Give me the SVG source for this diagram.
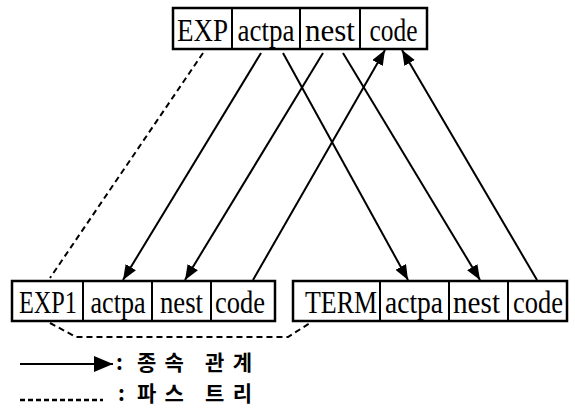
<svg xmlns="http://www.w3.org/2000/svg" width="575" height="419" viewBox="0 0 575 419">
<style>
.box{fill:#fff;stroke:#000;stroke-width:2.5}
.div{stroke:#000;stroke-width:2}
.t{font-family:"Liberation Serif","Times New Roman",serif;font-size:31px;fill:#000;text-anchor:middle}
.dep{fill:none;stroke:#000;stroke-width:2}
.tree{fill:none;stroke:#000;stroke-width:2;stroke-dasharray:6,4}
.k{font-family:"Noto Sans CJK KR","Noto Sans",sans-serif;font-size:21px;font-weight:700;fill:#000}
</style>
<defs>
<marker id="ah" markerUnits="userSpaceOnUse" markerWidth="16" markerHeight="12" refX="15" refY="6" orient="auto">
<path d="M0,0 L15,6 L0,12 z" fill="#000"/>
</marker>
<marker id="ahL" markerUnits="userSpaceOnUse" markerWidth="20" markerHeight="16" refX="19" refY="8" orient="auto">
<path d="M0,0 L19,8 L0,16 z" fill="#000"/>
</marker>
</defs>

<g id="EXP">
<rect class="box" x="173" y="8" width="254" height="41"/>
<line class="div" x1="232" y1="8" x2="232" y2="49"/>
<line class="div" x1="300" y1="8" x2="300" y2="49"/>
<line class="div" x1="360" y1="8" x2="360" y2="49"/>
<text class="t" x="202.5" y="41" textLength="51" lengthAdjust="spacingAndGlyphs">EXP</text>
<text class="t" x="266" y="41" textLength="57" lengthAdjust="spacingAndGlyphs">actpa</text>
<text class="t" x="330" y="41" textLength="50" lengthAdjust="spacingAndGlyphs">nest</text>
<text class="t" x="393.5" y="41" textLength="48" lengthAdjust="spacingAndGlyphs">code</text>
</g>

<g id="EXP1">
<rect class="box" x="12" y="281" width="263" height="40"/>
<line class="div" x1="83" y1="281" x2="83" y2="321"/>
<line class="div" x1="152" y1="281" x2="152" y2="321"/>
<line class="div" x1="211" y1="281" x2="211" y2="321"/>
<text class="t" x="48" y="313" textLength="58" lengthAdjust="spacingAndGlyphs">EXP1</text>
<text class="t" x="118" y="313" textLength="55" lengthAdjust="spacingAndGlyphs">actpa</text>
<text class="t" x="181.5" y="313" textLength="43" lengthAdjust="spacingAndGlyphs">nest</text>
<text class="t" x="240" y="313" textLength="50" lengthAdjust="spacingAndGlyphs">code</text>
</g>

<g id="TERM">
<rect class="box" x="293" y="281" width="274" height="40"/>
<line class="div" x1="380" y1="281" x2="380" y2="321"/>
<line class="div" x1="449" y1="281" x2="449" y2="321"/>
<line class="div" x1="508" y1="281" x2="508" y2="321"/>
<text class="t" x="341" y="313" textLength="72" lengthAdjust="spacingAndGlyphs">TERM</text>
<text class="t" x="414" y="313" textLength="58" lengthAdjust="spacingAndGlyphs">actpa</text>
<text class="t" x="476.5" y="313" textLength="47" lengthAdjust="spacingAndGlyphs">nest</text>
<text class="t" x="538" y="313" textLength="50" lengthAdjust="spacingAndGlyphs">code</text>
</g>

<g id="connectors">
<line class="dep" x1="261" y1="53" x2="123" y2="280" marker-end="url(#ah)"/>
<line class="dep" x1="283" y1="53" x2="408" y2="280" marker-end="url(#ah)"/>
<line class="dep" x1="323" y1="53" x2="185" y2="280" marker-end="url(#ah)"/>
<line class="dep" x1="343" y1="53" x2="480" y2="280" marker-end="url(#ah)"/>
<line class="dep" x1="253" y1="280" x2="385" y2="50" marker-end="url(#ah)"/>
<line class="dep" x1="537" y1="280" x2="402" y2="50" marker-end="url(#ah)"/>
<path class="tree" d="M203,53 L50,278"/>
<path class="tree" d="M50,323 L76,337 L288,337 L310,323"/>
</g>

<g id="legend">
<line class="dep" x1="20" y1="364" x2="113" y2="364" marker-end="url(#ahL)"/>
<text class="k" x="116" y="370">:</text>
<text class="k" x="137" y="370" textLength="115" lengthAdjust="spacing">종속 관계</text>
<line x1="20" y1="400" x2="103" y2="400" stroke="#000" stroke-width="2.5" stroke-dasharray="5,3"/>
<text class="k" x="118" y="401">:</text>
<text class="k" x="137" y="401" textLength="115" lengthAdjust="spacing">파스 트리</text>
</g>
</svg>
